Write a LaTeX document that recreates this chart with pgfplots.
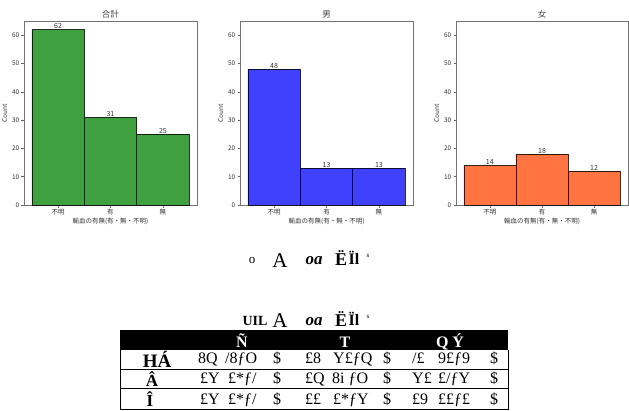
\documentclass[border=0pt]{standalone}
\usepackage{fontspec}
\setmainfont{Liberation Serif}
\newfontfamily\jp{Noto Sans CJK JP}
\usepackage{pgfplots}
\pgfplotsset{compat=1.18}
\definecolor{cg}{RGB}{64,160,64}
\definecolor{cb}{RGB}{64,64,255}
\definecolor{co}{RGB}{255,116,64}
\pgfplotsset{panel/.style={
 scale only axis, width=173pt, height=184pt,
 xmin=-0.65, xmax=2.65, ymin=0, ymax=65,
 xtick={0,1,2}, xticklabels={不明,有,無},
 ytick={0,10,20,30,40,50,60},
 tick align=outside, tick pos=left, major tick length=2.5pt,
 axis line style={black!55}, tick style={black!60, line width=0.5pt},
 /pgf/number format/assume math mode=true,
 ticklabel style={font=\jp\fontsize{6.5}{7}\selectfont, text=black!80},
 xticklabel style={inner sep=1.5pt},
 yticklabel style={inner sep=2pt},
 xlabel={輸血の有無(有・無・不明)}, ylabel={Count},
 label style={font=\jp\fontsize{6.5}{7}\selectfont, text=black!80},
 xlabel style={at={(axis description cs:0.5,-0.09)}, anchor=center},
 ylabel style={at={(axis description cs:-0.112,0.5)}, anchor=center},
 title style={at={(axis description cs:0.5,1.0)}, anchor=center, yshift=1pt, font=\jp\fontsize{8.5}{9}\selectfont, text=black!75},
 ybar, bar width=1,
 nodes near coords,
 nodes near coords style={font=\jp\fontsize{7}{7}\selectfont, text=black!80, inner sep=0.6pt, anchor=south},
 every axis plot/.append style={draw=black, draw opacity=0.8, line width=0.6pt},
}}
\begin{document}
\begin{tikzpicture}
\path[use as bounding box] (0pt,0pt) rectangle (629pt,-410pt);
\begin{axis}[panel, at={(24pt,-205pt)}, anchor=south west, title={合計}]
\addplot[fill=cg] coordinates {(0,62) (1,31) (2,25)};
\end{axis}
\begin{axis}[panel, at={(240pt,-205pt)}, anchor=south west, title={男}]
\addplot[fill=cb] coordinates {(0,48) (1,13) (2,13)};
\end{axis}
\begin{axis}[panel, at={(456pt,-205pt)}, anchor=south west, width=172pt, title={女}]
\addplot[fill=co] coordinates {(0,14) (1,18) (2,12)};
\end{axis}
% garbled caption lines
\node[font=\fontsize{13}{13}\selectfont, anchor=base] at (252pt,-263pt) {o};
\node[font=\fontsize{21}{21}\selectfont, anchor=base] at (280pt,-267pt) {A};
\node[font=\fontsize{17}{17}\selectfont\bfseries\itshape, anchor=base] at (314pt,-264pt) {oa};
\node[font=\fontsize{18}{18}\selectfont\bfseries, anchor=base] at (341pt,-265pt) {Ë};
\node[font=\fontsize{16}{16}\selectfont\bfseries, anchor=base] at (354pt,-264pt) {Ïl};
\node[font=\fontsize{7}{7}\selectfont, anchor=base] at (368pt,-257pt) {s};
\node[font=\fontsize{14}{14}\selectfont\bfseries, anchor=base] at (255pt,-325pt) {UIL};
\node[font=\fontsize{21}{21}\selectfont, anchor=base] at (280pt,-327pt) {A};
\node[font=\fontsize{17}{17}\selectfont\bfseries\itshape, anchor=base] at (314pt,-325pt) {oa};
\node[font=\fontsize{18}{18}\selectfont\bfseries, anchor=base] at (341pt,-326pt) {Ë};
\node[font=\fontsize{16}{16}\selectfont\bfseries, anchor=base] at (354pt,-325pt) {Ïl};
\node[font=\fontsize{7}{7}\selectfont, anchor=base] at (368pt,-318pt) {s};
% table
\fill[black] (120pt,-330pt) rectangle (508pt,-350pt);
\draw[black, line width=0.6pt] (120pt,-350pt) -- (120pt,-410pt);
\draw[black, line width=0.6pt] (508pt,-350pt) -- (508pt,-410pt);
\draw[black, line width=1.5pt] (120pt,-369.5pt) -- (508pt,-369.5pt);
\draw[black, line width=1.5pt] (120pt,-388.5pt) -- (508pt,-388.5pt);
\draw[black, line width=1pt] (120pt,-409.5pt) -- (508pt,-409.5pt);
\node[text=white, font=\fontsize{16}{16}\selectfont\bfseries, anchor=base] at (242pt,-347pt) {Ñ};
\node[text=white, font=\fontsize{16}{16}\selectfont\bfseries, anchor=base] at (345pt,-347pt) {T};
\node[text=white, font=\fontsize{16}{16}\selectfont\bfseries, anchor=base] at (450pt,-347pt) {Q Ý};
\node[font=\fontsize{19}{19}\selectfont\bfseries, anchor=base] at (157pt,-367pt) {HÁ};
\node[font=\fontsize{17}{17}\selectfont\bfseries, anchor=base] at (152pt,-386pt) {Â};
\node[font=\fontsize{17}{17}\selectfont\bfseries, anchor=base] at (150pt,-406pt) {Î};
\tikzset{cell/.style={font=\fontsize{16}{16}\selectfont, anchor=base west, inner sep=0pt}}
% row 1
\node[cell] at (198pt,-363pt) {8Q};
\node[cell] at (225pt,-363pt) {/8ƒO};
\node[cell] at (273pt,-363pt) {\$};
\node[cell] at (305pt,-363pt) {£8};
\node[cell] at (333pt,-363pt) {Y£ƒQ};
\node[cell] at (383pt,-363pt) {\$};
\node[cell] at (412pt,-363pt) {/£};
\node[cell] at (438pt,-363pt) {9£ƒ9};
\node[cell] at (490pt,-363pt) {\$};
% row 2
\node[cell] at (200pt,-383pt) {£Y};
\node[cell] at (228pt,-383pt) {£*ƒ/};
\node[cell] at (273pt,-383pt) {\$};
\node[cell] at (305pt,-383pt) {£Q};
\node[cell] at (332pt,-383pt) {8i ƒO};
\node[cell] at (383pt,-383pt) {\$};
\node[cell] at (412pt,-383pt) {Y£};
\node[cell] at (438pt,-383pt) {£/ƒY};
\node[cell] at (490pt,-383pt) {\$};
% row 3
\node[cell] at (200pt,-404pt) {£Y};
\node[cell] at (228pt,-404pt) {£*ƒ/};
\node[cell] at (273pt,-404pt) {\$};
\node[cell] at (305pt,-404pt) {££};
\node[cell] at (333pt,-404pt) {£*ƒY};
\node[cell] at (383pt,-404pt) {\$};
\node[cell] at (412pt,-404pt) {£9};
\node[cell] at (438pt,-404pt) {££ƒ£};
\node[cell] at (490pt,-404pt) {\$};
\end{tikzpicture}
\end{document}
